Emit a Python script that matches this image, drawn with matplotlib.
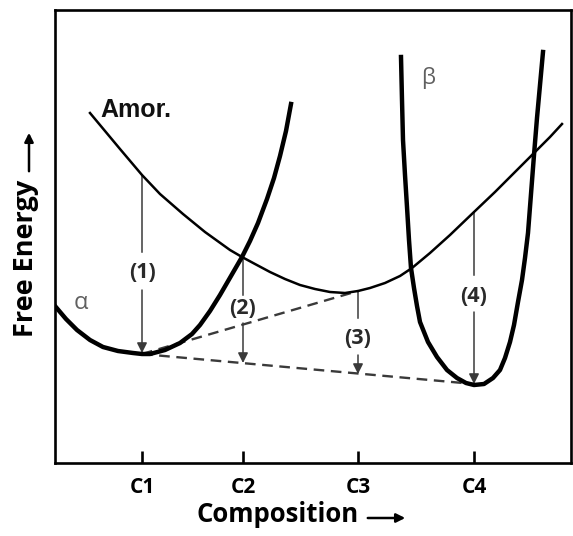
import matplotlib
matplotlib.use("Agg")
import matplotlib.pyplot as plt

# ---------------- data (arbitrary composition / energy units) ----------------
amor_x = [35, 50, 65, 87, 105, 128, 150, 175, 187, 200, 215, 230, 245, 260, 275, 290,
          303, 315, 330, 345, 357, 375, 395, 419, 440, 460, 479, 495, 507]
amor_e = [350, 332, 314, 288, 269, 249, 231, 213, 206, 199, 191, 184, 178, 174, 171, 170,
          172, 175, 180, 187, 195, 210, 228, 251, 271, 291, 310, 326, 339]

alpha_x = [0, 11, 22, 35, 48, 63, 78, 87, 95, 110, 125, 137, 145, 155, 165, 176, 187,
           195, 203, 212, 219, 225, 231, 236]
alpha_e = [157, 144, 133, 123, 116, 112, 110, 109, 109, 113, 120, 129, 138, 152, 168, 187, 206,
           222, 240, 264, 285, 307, 332, 359]

beta_x = [346, 347, 348, 350, 352, 354, 356, 359, 362, 365, 373, 382, 392, 402, 411, 419,
          429, 438, 445, 450, 455, 459, 463, 467, 470, 473, 475, 477, 479, 482, 485, 488]
beta_e = [406, 363, 323, 288, 256, 223, 195, 175, 157, 141, 121, 106, 93, 85, 80, 78,
          79, 85, 93, 105, 121, 138, 161, 183, 205, 230, 256, 282, 308, 345, 378, 411]

# common tangents (dashed)
tan_upper_x = [87, 303]
tan_upper_e = [109, 172]
tan_lower_x = [87, 419]
tan_lower_e = [109, 79]

# composition ticks
tick_pos = [87, 188, 303, 419]
tick_labels = ["C1", "C2", "C3", "C4"]

# driving-force arrows
arrow_labels = ["(1)", "(2)", "(3)", "(4)"]
arrow_x = [87, 188, 303, 419]
arrow_top = [288, 206, 172, 251]
arrow_tip = [110, 100, 89, 79]
label_e = [191, 154, 124, 167]
gap_above = [20, 14, 21, 21]
gap_below = [18, 14, 16, 16]

# ---------------- figure ----------------
W, H = 573, 536
fig = plt.figure(figsize=(W / 100, H / 100), dpi=100)
ax = fig.add_axes([55 / W, (H - 463) / H, 516 / W, 453 / H])
ax.set_xlim(0, 516)
ax.set_ylim(0, 453)

bold_font = ["Open Sans", "DejaVu Sans"]
dark = "#3a3a3a"

# curves
ax.plot(amor_x, amor_e, color="black", lw=1.8, solid_joinstyle="round", zorder=3)
ax.plot(alpha_x, alpha_e, color="black", lw=3.2, solid_joinstyle="round", zorder=3)
ax.plot(beta_x, beta_e, color="black", lw=3.2, solid_joinstyle="round", zorder=3)

# dashed tangents
ax.plot(tan_upper_x, tan_upper_e, color=dark, lw=1.7, dashes=(4.5, 2.8), zorder=2)
ax.plot(tan_lower_x, tan_lower_e, color=dark, lw=1.7, dashes=(4.5, 2.8), zorder=2)

# arrows with labels
for lab, x, top, tip, le, ga, gb in zip(arrow_labels, arrow_x, arrow_top, arrow_tip,
                                        label_e, gap_above, gap_below):
    ax.plot([x, x], [top, le + ga], color=dark, lw=1.1, zorder=2)
    ax.annotate("", xy=(x, tip), xytext=(x, le - gb),
                arrowprops=dict(arrowstyle="-|>", color=dark, lw=1.1,
                                mutation_scale=15, shrinkA=0, shrinkB=0), zorder=2)
    ax.text(x, le, lab, ha="center", va="center", fontsize=15.5, fontweight="bold",
            color="#2a2a2a", family=bold_font)

# phase labels
ax.text(45, 346, "Amor.", ha="left", va="baseline", fontsize=18, fontweight="bold",
        color="#111111", family=["Liberation Sans", "DejaVu Sans"])
ax.text(26, 160, "α", ha="center", va="center", fontsize=17, color="#606060",
        family=["Open Sans", "DejaVu Sans"])
ax.text(373, 385, "β", ha="center", va="center", fontsize=16, color="#606060",
        family=["Open Sans", "DejaVu Sans"])

# spines / ticks
for s in ax.spines.values():
    s.set_linewidth(1.9)
ax.set_xticks(tick_pos)
ax.set_xticklabels(tick_labels, fontsize=15, fontweight="bold", family=bold_font)
ax.tick_params(axis="x", direction="in", length=8.5, width=1.9, pad=10)
ax.set_yticks([])

# axis titles with long arrows
fig.text(278 / W, 1 - 514 / H, "Composition", ha="center", va="center", fontsize=18.5,
         fontweight="bold", family=bold_font)
fig.text(26 / W, 1 - 258 / H, "Free Energy", ha="center", va="center", rotation=90,
         fontsize=19.5, fontweight="bold", family=bold_font)
fig.add_artist(matplotlib.patches.FancyArrowPatch(
    (365 / W, 1 - 518 / H), (408 / W, 1 - 518 / H), transform=fig.transFigure,
    arrowstyle="-|>", mutation_scale=13, lw=1.8, color="black"))
fig.add_artist(matplotlib.patches.FancyArrowPatch(
    (29 / W, 1 - 174 / H), (29 / W, 1 - 130 / H), transform=fig.transFigure,
    arrowstyle="-|>", mutation_scale=13, lw=1.8, color="black"))

fig.savefig("out.png", dpi=100)
